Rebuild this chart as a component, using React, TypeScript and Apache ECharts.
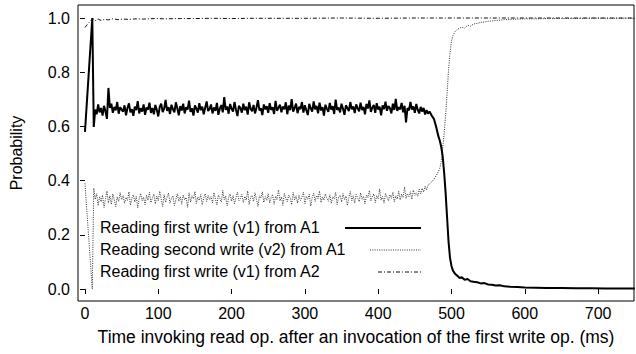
import React, { useEffect, useRef } from "react";
import * as echarts from "echarts";

// Read-probability traces over time (ms after the first write was invoked).
const startTimes = [0, 10];
const noiseFrom = 12;
const noiseStep = 2;
const tailTimes = [
  470, 473, 476, 479, 482, 484, 486, 488, 490, 492, 494, 496, 498, 500, 502, 505, 508, 511, 514, 518,
  522, 526, 530, 535, 540, 545, 550, 555, 560, 566, 572, 580, 590, 600, 615, 630, 650, 670, 690, 710,
  730, 750,
];

// Reading first write (v1) from A1
const v1A1Start = [0.58, 1.0];
const v1A1Noise = [
  0.598, 0.662, 0.645, 0.681, 0.652, 0.668, 0.640, 0.676, 0.655, 0.628, 0.742, 0.668, 0.684, 0.650, 0.672, 0.659, 0.690, 0.647, 0.671, 0.662,
  0.655, 0.678, 0.641, 0.668, 0.685, 0.652, 0.664, 0.639, 0.673, 0.660, 0.693, 0.648, 0.667, 0.655, 0.681, 0.643, 0.670, 0.662, 0.688, 0.650,
  0.668, 0.645, 0.679, 0.661, 0.637, 0.672, 0.684, 0.653, 0.666, 0.698, 0.657, 0.671, 0.646, 0.680, 0.663, 0.652, 0.689, 0.667, 0.641, 0.675,
  0.659, 0.684, 0.648, 0.671, 0.662, 0.695, 0.654, 0.667, 0.640, 0.678, 0.666, 0.651, 0.686, 0.660, 0.673, 0.645, 0.669, 0.692, 0.657, 0.664,
  0.681, 0.648, 0.670, 0.658, 0.687, 0.643, 0.666, 0.679, 0.652, 0.708, 0.661, 0.674, 0.647, 0.683, 0.665, 0.655, 0.690, 0.662, 0.638, 0.676,
  0.668, 0.651, 0.684, 0.660, 0.673, 0.644, 0.689, 0.665, 0.656, 0.679, 0.648, 0.670, 0.697, 0.659, 0.667, 0.642, 0.681, 0.663, 0.675, 0.650,
  0.686, 0.661, 0.671, 0.646, 0.694, 0.658, 0.669, 0.680, 0.652, 0.674, 0.663, 0.689, 0.645, 0.677, 0.660, 0.701, 0.655, 0.668, 0.684, 0.649,
  0.672, 0.664, 0.690, 0.651, 0.678, 0.660, 0.642, 0.683, 0.667, 0.655, 0.692, 0.663, 0.676, 0.648, 0.688, 0.659, 0.671, 0.640, 0.680, 0.666,
  0.654, 0.687, 0.662, 0.675, 0.646, 0.699, 0.661, 0.670, 0.652, 0.684, 0.665, 0.643, 0.678, 0.668, 0.657, 0.690, 0.663, 0.674, 0.649, 0.681,
  0.667, 0.656, 0.688, 0.660, 0.672, 0.645, 0.683, 0.666, 0.696, 0.654, 0.669, 0.679, 0.650, 0.686, 0.662, 0.673, 0.641, 0.678, 0.664, 0.691,
  0.658, 0.675, 0.668, 0.648, 0.684, 0.661, 0.702, 0.657, 0.671, 0.663, 0.687, 0.652, 0.676, 0.615, 0.668, 0.659, 0.690, 0.662, 0.674, 0.650,
  0.683, 0.661, 0.648, 0.672, 0.655, 0.668, 0.644, 0.660, 0.647,
];
const v1A1Tail = [
  0.655, 0.640, 0.628, 0.600, 0.565, 0.548, 0.525, 0.490, 0.430, 0.355, 0.265, 0.175, 0.115, 0.085, 0.068, 0.056, 0.049, 0.041, 0.044, 0.034,
  0.037, 0.029, 0.027, 0.025, 0.021, 0.022, 0.017, 0.016, 0.013, 0.014, 0.010, 0.009, 0.008, 0.006, 0.005, 0.004, 0.004, 0.003, 0.003, 0.002,
  0.002, 0.002,
];

// Reading second write (v2) from A1
const v2A1Start = [0.39, 0.0];
const v2A1Noise = [
  0.372, 0.331, 0.352, 0.308, 0.341, 0.322, 0.347, 0.301, 0.333, 0.362, 0.318, 0.344, 0.312, 0.351, 0.329, 0.304, 0.340, 0.323, 0.356, 0.330,
  0.345, 0.316, 0.338, 0.327, 0.359, 0.309, 0.336, 0.348, 0.321, 0.342, 0.300, 0.334, 0.353, 0.325, 0.339, 0.311, 0.346, 0.328, 0.357, 0.319,
  0.337, 0.350, 0.314, 0.343, 0.326, 0.361, 0.332, 0.305, 0.348, 0.320, 0.339, 0.354, 0.317, 0.335, 0.344, 0.308, 0.330, 0.352, 0.324, 0.341,
  0.313, 0.347, 0.329, 0.338, 0.302, 0.355, 0.321, 0.344, 0.333, 0.360, 0.316, 0.340, 0.327, 0.349, 0.311, 0.336, 0.352, 0.323, 0.345, 0.330,
  0.341, 0.318, 0.356, 0.332, 0.310, 0.347, 0.335, 0.321, 0.364, 0.329, 0.343, 0.307, 0.338, 0.351, 0.324, 0.345, 0.315, 0.337, 0.358, 0.326,
  0.334, 0.350, 0.319, 0.342, 0.328, 0.362, 0.312, 0.339, 0.346, 0.323, 0.355, 0.331, 0.305, 0.344, 0.336, 0.359, 0.320, 0.341, 0.327, 0.352,
  0.318, 0.338, 0.349, 0.313, 0.343, 0.330, 0.366, 0.325, 0.340, 0.309, 0.353, 0.334, 0.322, 0.347, 0.337, 0.311, 0.356, 0.329, 0.344, 0.317,
  0.346, 0.327, 0.339, 0.358, 0.315, 0.342, 0.331, 0.350, 0.306, 0.337, 0.354, 0.323, 0.345, 0.333, 0.362, 0.319, 0.340, 0.328, 0.351, 0.335,
  0.324, 0.348, 0.316, 0.341, 0.333, 0.357, 0.312, 0.339, 0.346, 0.321, 0.352, 0.330, 0.343, 0.308, 0.337, 0.360, 0.326, 0.344, 0.318, 0.349,
  0.336, 0.322, 0.355, 0.331, 0.342, 0.314, 0.347, 0.338, 0.364, 0.325, 0.340, 0.351, 0.319, 0.345, 0.333, 0.370, 0.328, 0.342, 0.317, 0.353,
  0.339, 0.326, 0.348, 0.335, 0.357, 0.321, 0.344, 0.332, 0.361, 0.329, 0.350, 0.338, 0.376, 0.334, 0.352, 0.341, 0.359, 0.331, 0.365, 0.346,
  0.355, 0.342, 0.368, 0.351, 0.372, 0.358, 0.380, 0.366, 0.384,
];
const v2A1Tail = [
  0.388, 0.395, 0.405, 0.418, 0.432, 0.445, 0.470, 0.520, 0.575, 0.640, 0.720, 0.810, 0.870, 0.915, 0.935, 0.950, 0.958, 0.962, 0.966, 0.963,
  0.973, 0.970, 0.978, 0.980, 0.984, 0.985, 0.988, 0.989, 0.991, 0.992, 0.994, 0.995, 0.996, 0.997, 0.997, 0.998, 0.998, 0.998, 0.999, 0.999,
  0.999, 0.999,
];

// Reading first write (v1) from A2
const v1A2Times = [0, 3, 6, 9, 11, 14, 18, 22, 27, 32, 38, 45, 52, 60, 70, 80, 95, 110, 130, 150, 175, 200, 230, 260, 300, 350, 400, 450, 500, 550, 600, 650, 700, 750];
const v1A2Values = [0.965, 0.975, 0.985, 0.994, 0.998, 0.99, 0.996, 0.991, 0.995, 0.993, 0.997, 0.994, 0.996, 0.995, 0.997, 0.996, 0.998, 0.997, 0.998, 0.998, 0.999, 0.998, 0.999, 0.999, 0.999, 1.0, 0.999, 1.0, 1.0, 1.0, 1.0, 1.0, 1.0, 1.0];

const xTicks = [0, 100, 200, 300, 400, 500, 600, 700];
const yTicks = [0, 0.2, 0.4, 0.6, 0.8, 1.0];

const seriesNames = [
  "Reading first write (v1) from A1",
  "Reading second write (v2) from A1",
  "Reading first write (v1) from A2",
];

const FONT = "'Liberation Sans', Arial, Helvetica, sans-serif";

function sampleTimes(): number[] {
  const noiseTimes = v1A1Noise.map((_, i) => noiseFrom + i * noiseStep);
  return [...startTimes, ...noiseTimes, ...tailTimes];
}

function pairs(times: number[], values: number[]): [number, number][] {
  return times.map((t, i) => [t, values[i]]);
}

export default function App() {
  const ref = useRef<HTMLDivElement>(null);

  useEffect(() => {
    document.body.style.margin = "0";
    if (!ref.current) return;
    const chart = echarts.init(ref.current, undefined, { renderer: "svg" });
    const times = sampleTimes();
    const solid = pairs(times, [...v1A1Start, ...v1A1Noise, ...v1A1Tail]);
    const dotted = pairs(times, [...v2A1Start, ...v2A1Noise, ...v2A1Tail]);
    const dashDot = pairs(v1A2Times, v1A2Values);

    const styles = [
      { color: "#000", width: 2, type: "solid" as any },
      { color: "#333", width: 1, type: [1, 1.3] as any },
      { color: "#111", width: 1, type: [4, 2, 1, 2] as any },
    ];

    const legendRows = [228, 250, 272];
    const legendLineStart = [345, 370, 378];
    const legendGraphics: any[] = [];
    seriesNames.forEach((name, i) => {
      legendGraphics.push({
        type: "text",
        left: 100,
        top: legendRows[i] - 9,
        style: { text: name, font: `16px ${FONT}`, fill: "#000" },
      });
      legendGraphics.push({
        type: "line",
        shape: { x1: legendLineStart[i], y1: legendRows[i], x2: 421, y2: legendRows[i] },
        style: { stroke: styles[i].color, lineWidth: styles[i].width, lineDash: i === 0 ? null : styles[i].type },
      });
    });

    chart.setOption({
      animation: false,
      grid: {
        left: 72,
        right: 2,
        top: 5,
        bottom: 53,
        show: true,
        borderColor: "#000",
        borderWidth: 1,
        backgroundColor: "transparent",
      },
      xAxis: {
        type: "value",
        min: -9.5,
        max: 749,
        name: "Time invoking read op. after an invocation of the first write op. (ms)",
        nameLocation: "middle",
        nameGap: 27,
        nameTextStyle: { fontFamily: FONT, fontSize: 17.5, color: "#000" },
        axisLine: { show: false },
        splitLine: { show: false },
        axisTick: { show: true, length: 5, lineStyle: { color: "#000" }, customValues: xTicks },
        axisLabel: {
          fontFamily: FONT,
          fontSize: 16,
          color: "#000",
          margin: 4,
          customValues: xTicks,
          formatter: (v: number) => String(v),
        },
      },
      yAxis: {
        type: "value",
        min: -0.044,
        max: 1.048,
        name: "Probability",
        nameLocation: "middle",
        nameGap: 54,
        nameRotate: 90,
        nameTextStyle: { fontFamily: FONT, fontSize: 16, color: "#000" },
        axisLine: { show: false },
        splitLine: { show: false },
        axisTick: { show: true, length: 5, lineStyle: { color: "#000" }, customValues: yTicks },
        axisLabel: {
          fontFamily: FONT,
          fontSize: 16,
          color: "#000",
          margin: 8,
          customValues: yTicks,
          formatter: (v: number) => v.toFixed(1),
        },
      },
      graphic: legendGraphics,
      series: [
        {
          name: seriesNames[2],
          type: "line",
          data: dashDot,
          showSymbol: false,
          lineStyle: styles[2],
          z: 2,
        },
        {
          name: seriesNames[1],
          type: "line",
          data: dotted,
          showSymbol: false,
          lineStyle: styles[1],
          z: 3,
        },
        {
          name: seriesNames[0],
          type: "line",
          data: solid,
          showSymbol: false,
          lineStyle: styles[0],
          z: 4,
        },
      ],
    });
    return () => chart.dispose();
  }, []);

  return <div ref={ref} style={{ width: 636, height: 354 }} />;
}
